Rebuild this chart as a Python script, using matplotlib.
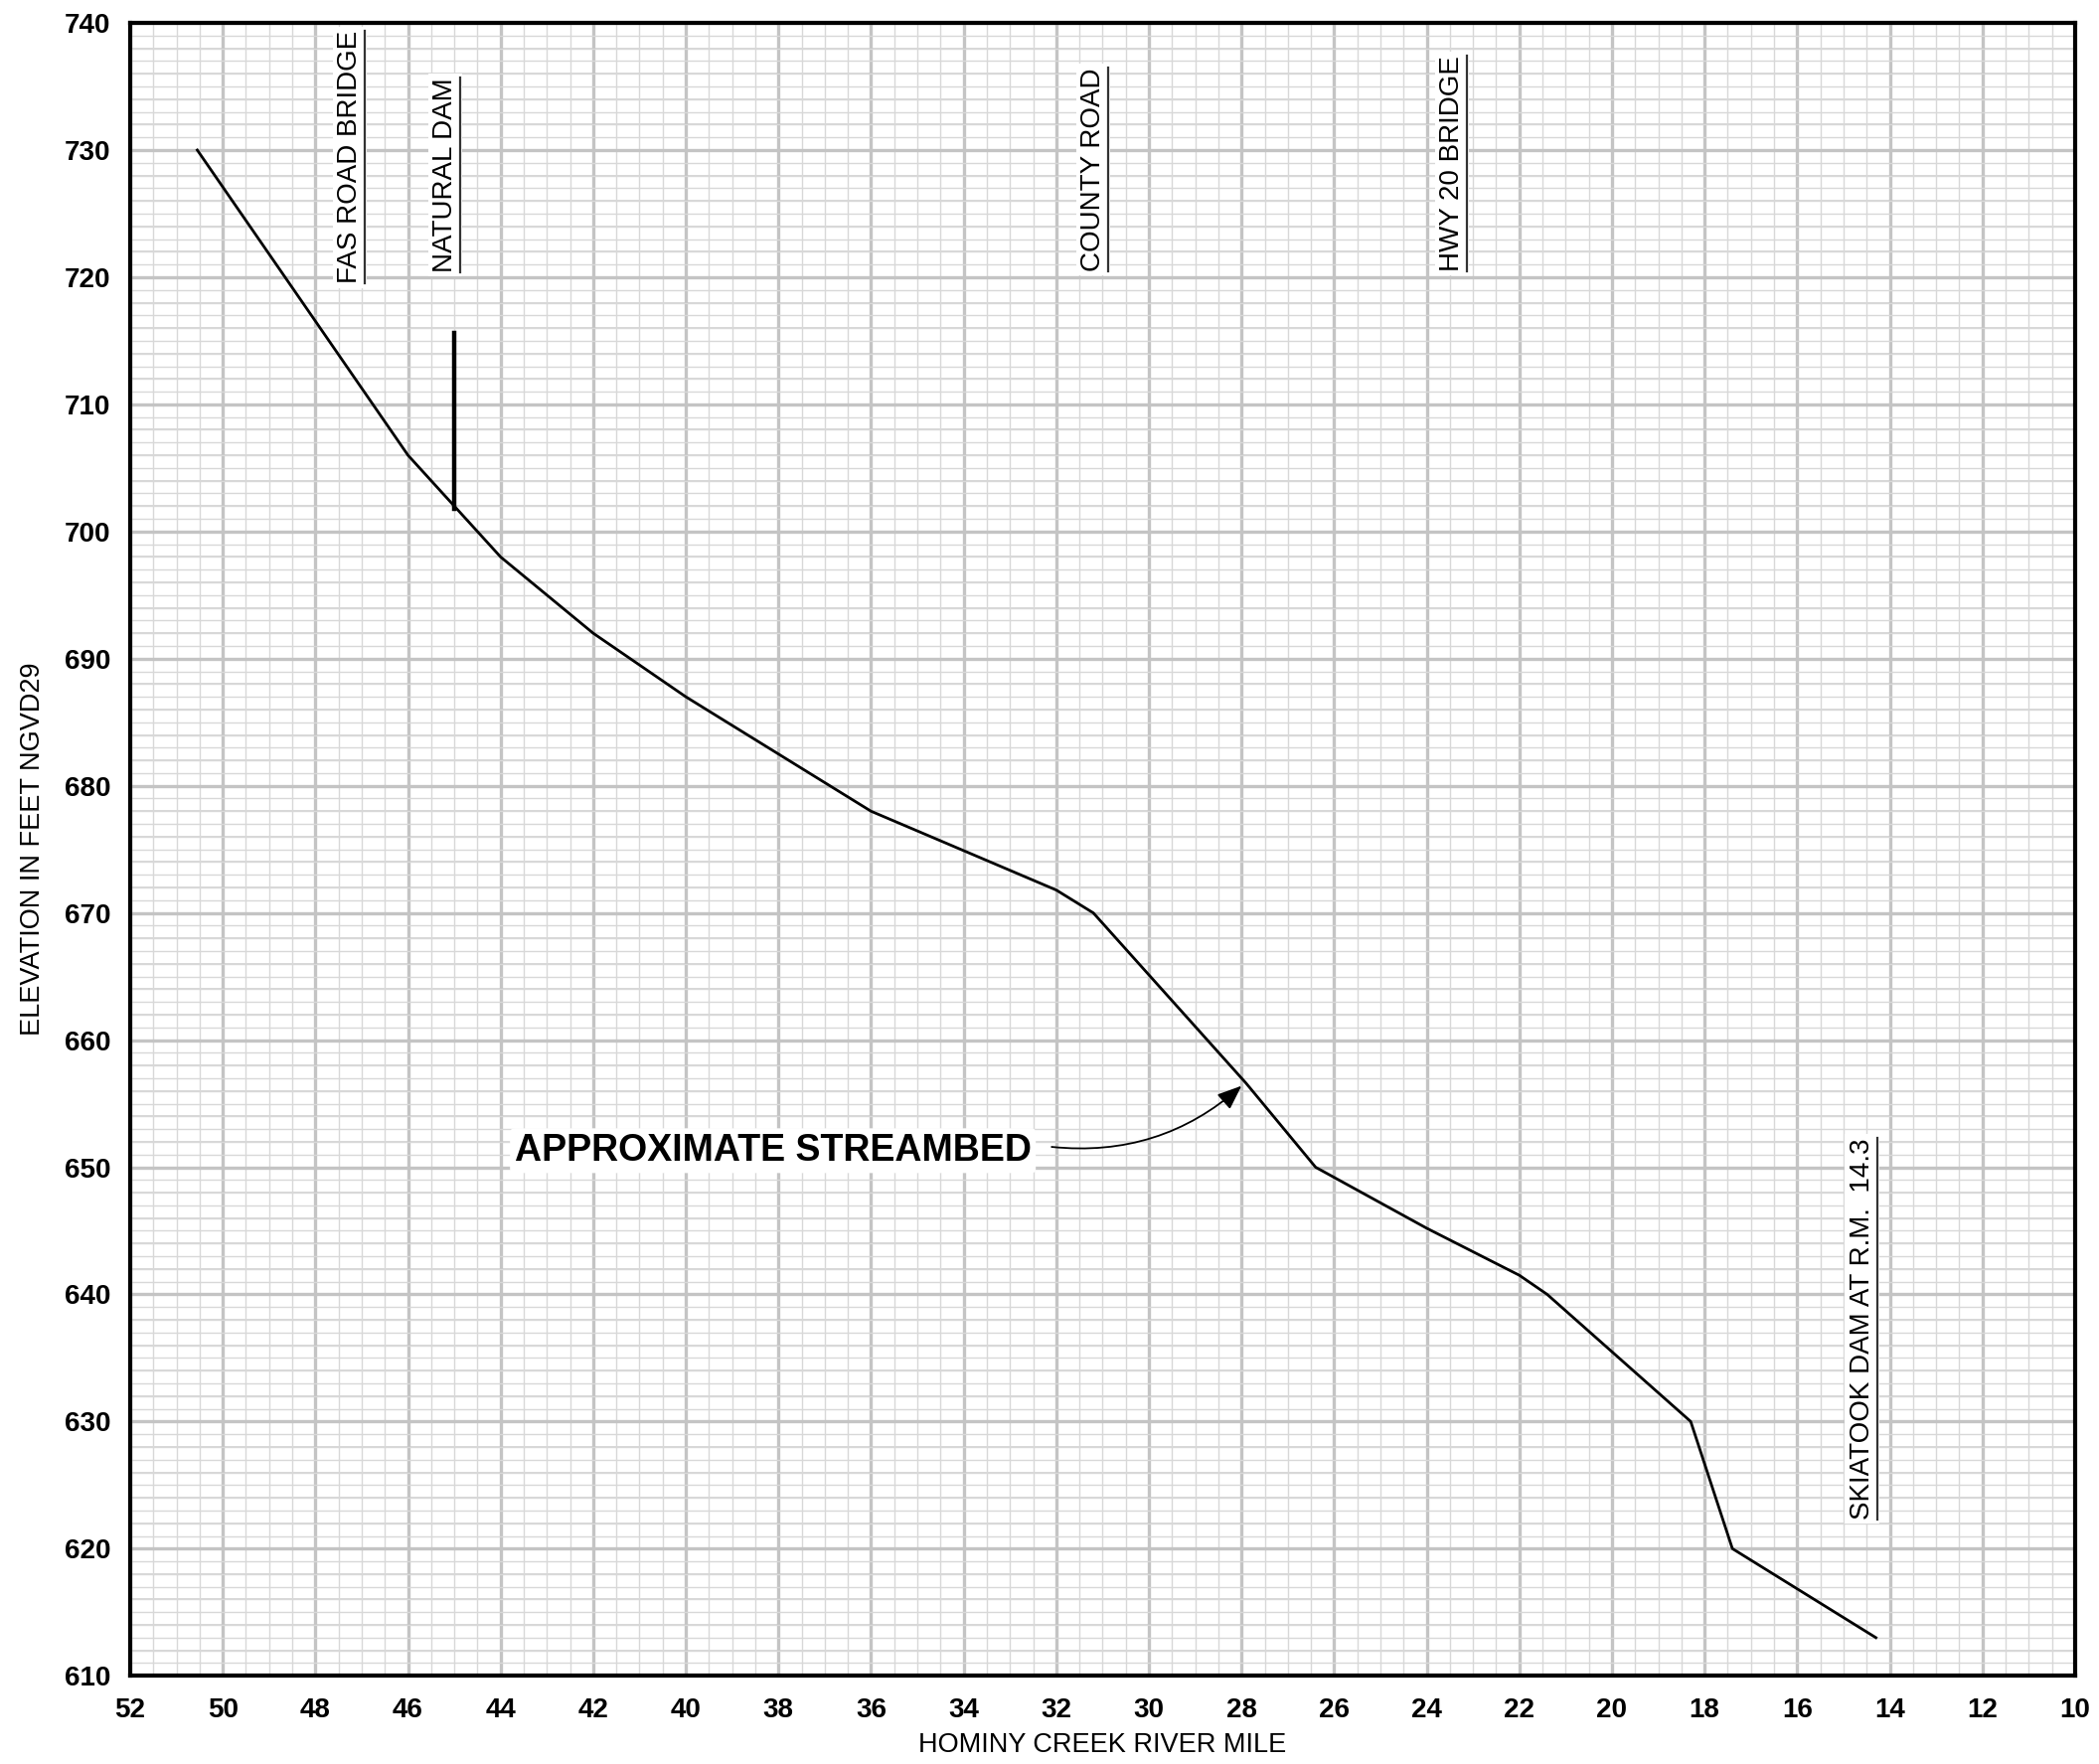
import matplotlib.pyplot as plt
from matplotlib.ticker import MultipleLocator

plt.rcParams['font.family'] = ['Liberation Sans', 'DejaVu Sans']

# streambed profile (river mile, elevation ft)
river_mile = [50.55, 46.0, 45.0, 44.0, 42.0, 40.0, 38.0, 36.0, 32.0, 31.2,
              27.9, 26.4, 24.0, 22.0, 21.4, 18.3, 17.4, 14.3]
elevation = [730.0, 706.0, 702.0, 698.0, 692.0, 687.0, 682.5, 678.0, 671.8, 670.0,
             656.6, 650.0, 645.2, 641.5, 640.0, 630.0, 620.0, 613.0]

# natural dam marker
dam_mile = 45.0
dam_bottom = 701.8
dam_top = 715.6

# vertical site labels
site_names = ["FAS ROAD BRIDGE", "NATURAL DAM", "COUNTY ROAD", "HWY 20 BRIDGE",
              "SKIATOOK DAM AT R.M.  14.3"]
site_miles = [47.25, 45.2, 31.2, 23.45, 14.6]
site_bottoms = [719.5, 720.4, 720.5, 720.5, 622.3]

fig = plt.figure(figsize=(21.12, 17.75), dpi=100)
ax = fig.add_axes([0.062, 0.050, 0.9266, 0.937])

ax.set_xlim(52, 10)
ax.set_ylim(610, 740)
ax.xaxis.set_major_locator(MultipleLocator(2))
ax.yaxis.set_major_locator(MultipleLocator(10))
ax.xaxis.set_minor_locator(MultipleLocator(0.5))
ax.yaxis.set_minor_locator(MultipleLocator(1))

# graph paper grid
ax.grid(which='minor', color='#d8d8d8', linewidth=1.0, zorder=0)
ax.grid(which='major', color='#c4c4c4', linewidth=2.4, zorder=0)
for v in range(612, 740, 2):
    ax.axhline(v, color='#cdcdcd', linewidth=1.1, zorder=0)
ax.set_axisbelow(True)

ax.tick_params(which='both', length=0)
ax.tick_params(axis='x', pad=16)
ax.tick_params(axis='y', pad=14)
for lab in ax.get_xticklabels() + ax.get_yticklabels():
    lab.set_fontsize(20)
    lab.set_fontweight('bold')
for s in ax.spines.values():
    s.set_linewidth(3)

ax.plot(river_mile, elevation, color='black', linewidth=2.0, zorder=3)
ax.plot([dam_mile, dam_mile], [dam_bottom, dam_top], color='black', linewidth=3.2,
        zorder=3)

ax.set_xlabel("HOMINY CREEK RIVER MILE", fontsize=19.5, labelpad=6)
ax.set_ylabel("ELEVATION IN FEET NGVD29", fontsize=19.5, labelpad=14)

texts = []
for name, m, b in zip(site_names, site_miles, site_bottoms):
    t = ax.text(m, b, name, rotation=90, ha='center', va='bottom', fontsize=20,
                zorder=4,
                bbox=dict(boxstyle='square,pad=0.15', fc='white', ec='none'))
    texts.append(t)

ax.text(43.7, 651.3, "APPROXIMATE STREAMBED", ha='left', va='center', fontsize=27,
        fontweight='bold', zorder=4,
        bbox=dict(boxstyle='round,pad=0.12', fc='white', ec='none'))
ax.annotate("", xy=(28.0, 656.4), xytext=(32.1, 651.6), zorder=4,
            arrowprops=dict(arrowstyle='-|>,head_length=1.0,head_width=0.4',
                            mutation_scale=15, color='black', lw=1.3,
                            connectionstyle='arc3,rad=0.22',
                            shrinkA=0, shrinkB=0))

# underline the rotated site labels
fig.canvas.draw()
r = fig.canvas.get_renderer()
inv = fig.transFigure.inverted()
for t in texts:
    bb = t.get_window_extent(r)
    (x0, y0), (x1, y1) = inv.transform([(bb.x0, bb.y0), (bb.x1, bb.y1)])
    xu = x1 + 2 / 2112
    fig.add_artist(plt.Line2D([xu, xu], [y0, y1], color='#333333', linewidth=1.6,
                              transform=fig.transFigure, zorder=5))

fig.savefig("out.png", dpi=100)
